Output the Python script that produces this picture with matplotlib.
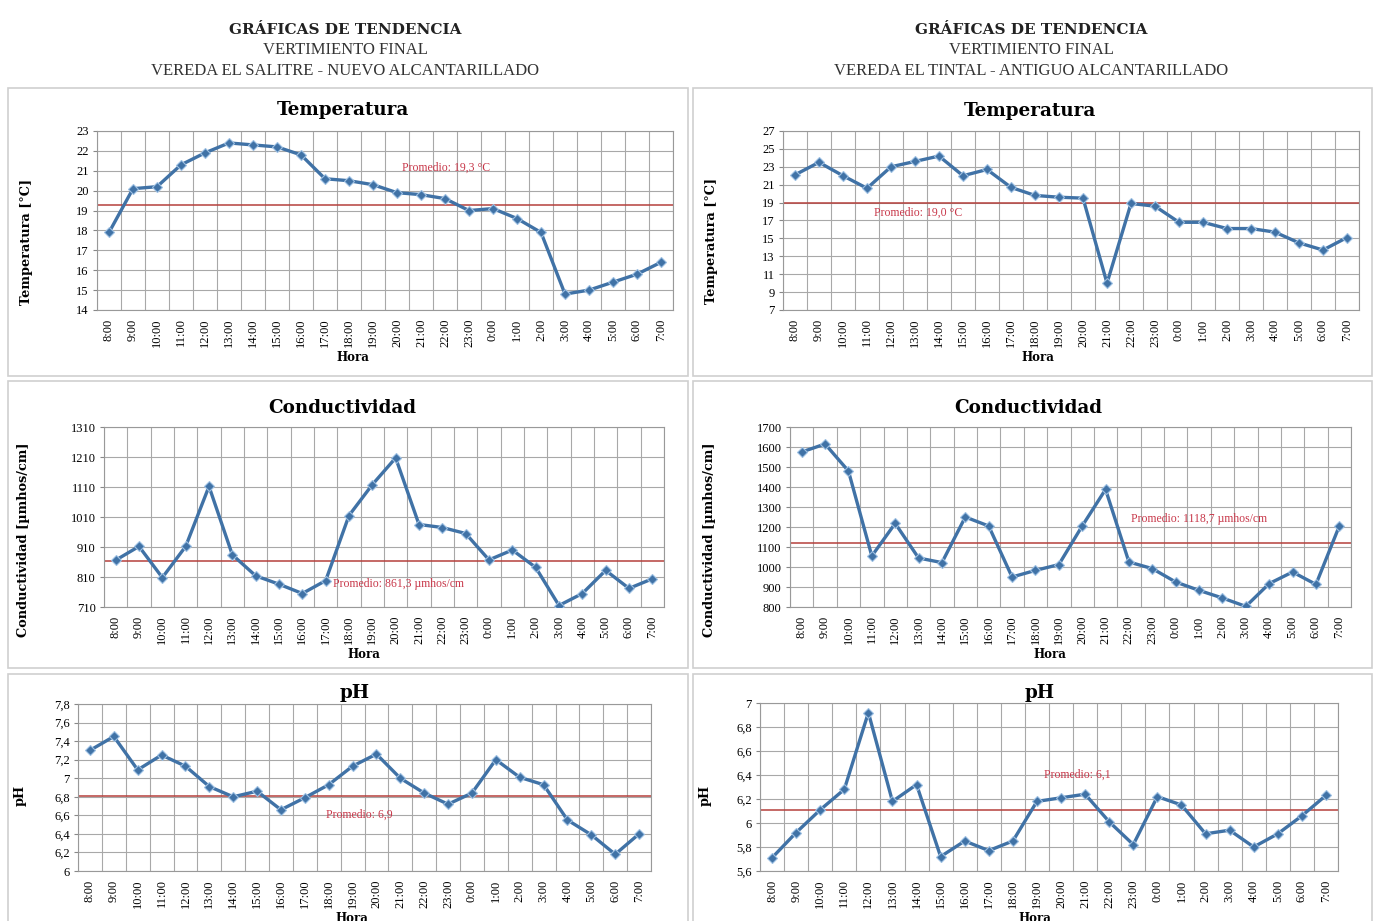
import numpy as np
import matplotlib
matplotlib.use("Agg")
import matplotlib.pyplot as plt
from matplotlib.patches import Rectangle

W, H = 1379, 921

horas = ["8:00", "9:00", "10:00", "11:00", "12:00", "13:00", "14:00", "15:00",
         "16:00", "17:00", "18:00", "19:00", "20:00", "21:00", "22:00", "23:00",
         "0:00", "1:00", "2:00", "3:00", "4:00", "5:00", "6:00", "7:00"]

# Vereda El Salitre - nuevo alcantarillado
temp_salitre = [17.9, 20.1, 20.2, 21.3, 21.9, 22.4, 22.3, 22.2, 21.8, 20.6, 20.5, 20.3,
                19.9, 19.8, 19.6, 19.0, 19.1, 18.6, 17.9, 14.8, 15.0, 15.4, 15.8, 16.4]
cond_salitre = [866, 912, 808, 912, 1112, 884, 814, 786, 755, 798, 1015, 1118,
                1207, 985, 975, 955, 867, 900, 842, 715, 755, 832, 772, 804]
ph_salitre = [7.30, 7.45, 7.09, 7.25, 7.13, 6.91, 6.80, 6.86, 6.66, 6.79, 6.93, 7.13,
              7.26, 7.00, 6.84, 6.72, 6.84, 7.20, 7.01, 6.93, 6.55, 6.39, 6.18, 6.40]

# Vereda El Tintal - antiguo alcantarillado
temp_tintal = [22.1, 23.5, 22.0, 20.6, 23.0, 23.6, 24.2, 22.0, 22.7, 20.7, 19.8, 19.6,
               19.5, 10.0, 18.9, 18.6, 16.8, 16.8, 16.1, 16.1, 15.7, 14.5, 13.7, 15.1]
cond_tintal = [1575, 1615, 1480, 1055, 1218, 1045, 1022, 1250, 1205, 950, 983, 1012,
               1205, 1388, 1025, 992, 925, 883, 845, 803, 917, 975, 913, 1205]
ph_tintal = [5.71, 5.92, 6.11, 6.28, 6.92, 6.18, 6.32, 5.72, 5.85, 5.77, 5.85, 6.18,
             6.21, 6.24, 6.01, 5.82, 6.22, 6.15, 5.91, 5.94, 5.80, 5.91, 6.06, 6.23]

TICKFONT = ["Liberation Serif", "DejaVu Serif"]
BOLDFONT = ["DejaVu Serif"]
BLUE = "#4072A6"
RED = "#B5403C"


def fig_rect(x0, y0, x1, y1):
    return [x0 / W, 1 - y1 / H, (x1 - x0) / W, (y1 - y0) / H]


def chart(box, title, title_xy, ylabel, ylab_xy, hora_x, values, yticks,
          avg, avg_txt, txt_xy, fmt):
    x0, y0, x1, y1 = box
    ax = fig.add_axes(fig_rect(*box))
    x = np.arange(len(horas))
    ax.plot(x, values, color=BLUE, lw=2.4, marker="D", ms=5.5,
            mfc=BLUE, mec="#9DC0E3", mew=0.8, zorder=3)
    ax.axhline(avg, color=RED, lw=1.1, zorder=2)
    ax.text(txt_xy[0], txt_xy[1], avg_txt, color="#C8384A", fontsize=8.5,
            family=TICKFONT, ha="left", va="center")
    ax.set_xlim(-0.5, len(horas) - 0.5)
    ax.set_ylim(yticks[0], yticks[-1])
    ax.set_yticks(yticks)
    ax.set_yticklabels([fmt(v) for v in yticks], family=TICKFONT, fontsize=9)
    ax.set_xticks(x)
    ax.set_xticklabels(horas, rotation=90, family=TICKFONT, fontsize=9)
    ax.set_xticks(np.arange(-0.5, len(horas), 1), minor=True)
    ax.tick_params(axis="x", which="both", length=0, pad=6)
    ax.tick_params(axis="y", length=3, color="#888888", pad=3)
    ax.grid(axis="y", which="major", color="#A8A8A8", lw=0.8)
    ax.grid(axis="x", which="minor", color="#A8A8A8", lw=0.8)
    ax.set_axisbelow(True)
    for s in ax.spines.values():
        s.set_color("#999999")
        s.set_linewidth(0.8)
    fig.text(title_xy[0] / W, 1 - title_xy[1] / H, title, family=BOLDFONT,
             fontsize=13.2, fontweight="bold", ha="center", va="center")
    ax.set_ylabel(ylabel, family=BOLDFONT, fontsize=9.3, fontweight="bold")
    ax.yaxis.set_label_coords((ylab_xy[0] - x0) / (x1 - x0), (y1 - ylab_xy[1]) / (y1 - y0))
    ax.set_xlabel("Hora", family=BOLDFONT, fontsize=8.5, fontweight="bold", labelpad=3)
    ax.xaxis.label.set_x((hora_x - x0) / (x1 - x0))
    return ax


fig = plt.figure(figsize=(W / 100, H / 100), dpi=100)
fig.patch.set_facecolor("white")

# cajas de las graficas
for bx0, bx1 in [(8, 688), (693, 1372)]:
    for by0, by1 in [(88, 376), (381, 668), (674, 925)]:
        fig.patches.append(Rectangle((bx0 / W, 1 - by1 / H), (bx1 - bx0) / W, (by1 - by0) / H,
                                     transform=fig.transFigure, fill=False,
                                     edgecolor="#CFCFCF", lw=1.2))

# encabezados
headers = [(345, "VEREDA EL SALITRE - NUEVO ALCANTARILLADO"),
           (1031, "VEREDA EL TINTAL - ANTIGUO ALCANTARILLADO")]
for cx, sub in headers:
    fig.text(cx / W, 1 - 30 / H, "GRÁFICAS DE TENDENCIA", ha="center", va="center",
             family="DejaVu Serif", fontsize=11, fontweight="bold", color="#222222")
    fig.text(cx / W, 1 - 50 / H, "VERTIMIENTO FINAL", ha="center", va="center",
             family=TICKFONT, fontsize=12, color="#333333")
    fig.text(cx / W, 1 - 71 / H, sub, ha="center", va="center",
             family=TICKFONT, fontsize=12, color="#333333")

int_fmt = lambda v: f"{v:g}"
comma_fmt = lambda v: f"{v:g}".replace(".", ",")

chart((97, 131, 673, 310), "Temperatura", (343, 110), "Temperatura [°C]", (33, 242), 353,
      temp_salitre, list(range(14, 24)), 19.3, "Promedio: 19,3 °C", (12.2, 21.15), int_fmt)
chart((783, 131, 1359, 310), "Temperatura", (1030, 111), "Temperatura [°C]", (718, 241), 1038,
      temp_tintal, list(range(7, 28, 2)), 19.0, "Promedio: 19,0 °C", (3.3, 17.9), int_fmt)
chart((104, 427, 664, 607), "Conductividad", (342, 408), "Conductividad [µmhos/cm]", (30, 540), 364,
      cond_salitre, list(range(710, 1311, 100)), 863, "Promedio: 861,3 µmhos/cm", (9.3, 787), int_fmt)
chart((790, 427, 1351, 607), "Conductividad", (1028, 408), "Conductividad [µmhos/cm]", (716, 540), 1050,
      cond_tintal, list(range(800, 1701, 100)), 1118.7, "Promedio: 1118,7 µmhos/cm", (14.1, 1240), int_fmt)
chart((78, 704, 651, 871), "pH", (355, 693), "pH", (27, 795), 352,
      ph_salitre, [round(6 + 0.2 * i, 1) for i in range(10)], 6.81, "Promedio: 6,9", (9.9, 6.61), comma_fmt)
chart((760, 703, 1338, 871), "pH", (1040, 693), "pH", (712, 795), 1035,
      ph_tintal, [round(5.6 + 0.2 * i, 1) for i in range(8)], 6.11, "Promedio: 6,1", (11.3, 6.40), comma_fmt)

fig.savefig("out.png", dpi=100, facecolor="white")
